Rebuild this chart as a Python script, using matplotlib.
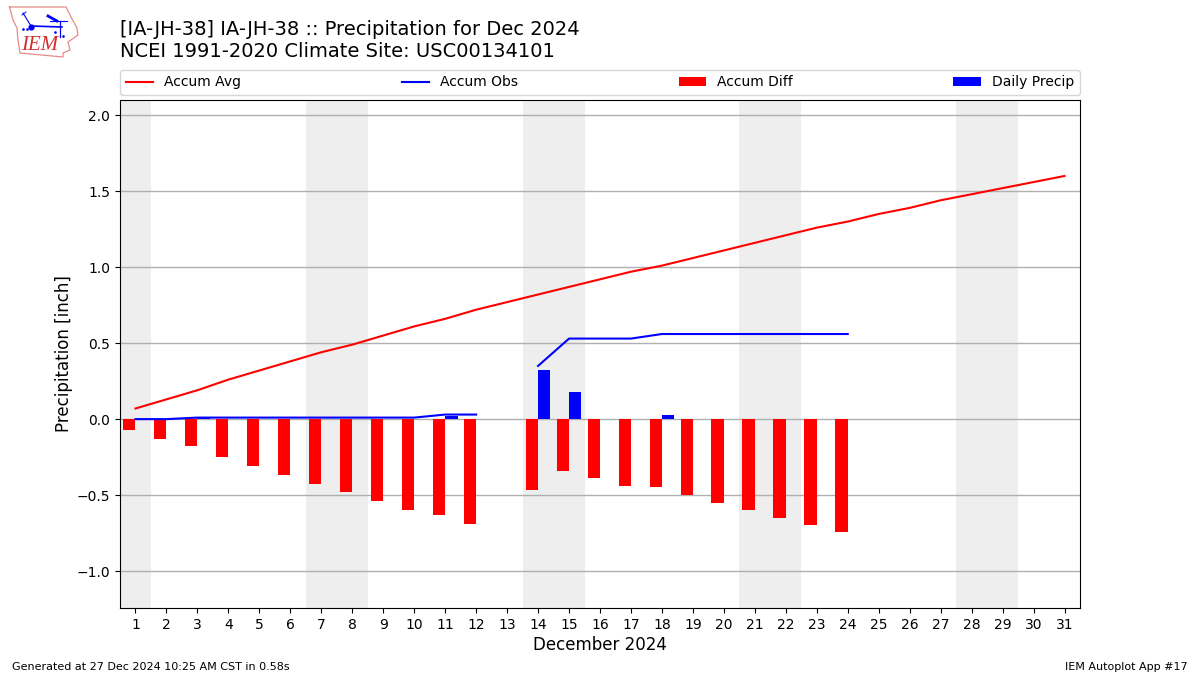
import numpy as np
import matplotlib
matplotlib.use("Agg")
import matplotlib.pyplot as plt

nan = float("nan")
days = list(range(1, 32))
accum_avg = [0.07, 0.13, 0.19, 0.26, 0.32, 0.38, 0.44, 0.49, 0.55, 0.61, 0.66, 0.72, 0.77, 0.82, 0.87, 0.92,
             0.97, 1.01, 1.06, 1.11, 1.16, 1.21, 1.26, 1.30, 1.35, 1.39, 1.44, 1.48, 1.52, 1.56, 1.60]
accum_obs = [0.0, 0.0, 0.01, 0.01, 0.01, 0.01, 0.01, 0.01, 0.01, 0.01, 0.03, 0.03, nan, 0.35, 0.53, 0.53,
             0.53, 0.56, 0.56, 0.56, 0.56, 0.56, 0.56, 0.56, nan, nan, nan, nan, nan, nan, nan]
accum_diff = [-0.07, -0.13, -0.18, -0.25, -0.31, -0.37, -0.43, -0.48, -0.54, -0.60, -0.63, -0.69, nan, -0.465,
              -0.34, -0.39, -0.44, -0.45, -0.50, -0.55, -0.60, -0.65, -0.70, -0.74, nan, nan, nan, nan, nan, nan, nan]
daily_precip = [0.0, 0.0, 0.01, 0.0, 0.0, 0.0, 0.0, 0.0, 0.0, 0.0, 0.02, 0.0, nan, 0.32, 0.18, 0.0,
                0.0, 0.03, 0.0, 0.0, 0.0, 0.0, 0.0, 0.0, nan, nan, nan, nan, nan, nan, nan]
weekend_spans = [(0.5, 1.5), (6.5, 8.5), (13.5, 15.5), (20.5, 22.5), (27.5, 29.5)]

W, H = 1200, 675
fig = plt.figure(figsize=(12, 6.75), dpi=100)
ax = fig.add_axes([120 / W, 1 - 608 / H, 960 / W, 508 / H])

for a, b in weekend_spans:
    ax.axvspan(a, b, color="#EEEEEE", lw=0, zorder=0)
ax.grid(True, axis="y", color="#b0b0b0", lw=1.0, zorder=1)
ax.set_axisbelow(True)

l1, = ax.plot(days, accum_avg, color="r", lw=1.5, label="Accum Avg", zorder=4)
l2, = ax.plot(days, accum_obs, color="b", lw=1.5, label="Accum Obs", zorder=4)
b1 = ax.bar(days, accum_diff, width=-0.4, align="edge", color="r", label="Accum Diff", zorder=3)
b2 = ax.bar(days, daily_precip, width=0.4, align="edge", color="b", label="Daily Precip", zorder=3)

ax.set_xlim(0.5, 31.5)
ax.set_ylim(-1.243, 2.1)
ax.set_xticks(days)
ax.set_yticks([-1.0, -0.5, 0.0, 0.5, 1.0, 1.5, 2.0])
ax.set_xlabel("December 2024", fontsize=12, labelpad=3)
ax.set_ylabel("Precipitation [inch]", fontsize=12, labelpad=2.5)
ax.tick_params(axis="both", labelsize=10)

ax.legend(handles=[l1, l2, b1, b2], ncol=4, mode="expand", loc="lower left",
          bbox_to_anchor=(0, 1.0098, 1, 0.0), borderaxespad=0, fontsize=10)

fig.text(120 / W, 1 - 61 / H, "[IA-JH-38] IA-JH-38 :: Precipitation for Dec 2024\n"
         "NCEI 1991-2020 Climate Site: USC00134101", fontsize=14, ha="left", va="bottom",
         linespacing=1.2)
fig.text(12 / W, 1 - 672 / H, "Generated at 27 Dec 2024 10:25 AM CST in 0.58s", fontsize=8, ha="left", va="bottom")
fig.text(1188 / W, 1 - 672 / H, "IEM Autoplot App #17", fontsize=8, ha="right", va="bottom")

# IEM logo, pixel coordinates
lg = fig.add_axes([0, 1 - 60 / H, 90 / W, 60 / H])
lg.set_xlim(0, 90)
lg.set_ylim(60, 0)
lg.axis("off")
outline_x = [9.5, 66, 71, 77, 78, 68, 70, 63, 63, 20, 18, 17, 13, 9.5]
outline_y = [7, 7, 17, 28, 35, 42, 50, 53, 57, 53, 40, 28, 20, 7]
lg.plot(outline_x, outline_y, color="#e58a8a", lw=0.9)
lg.plot([31, 62], [26, 27], color="b", lw=1.2)
lg.plot([31, 23], [26, 13], color="b", lw=0.8)
lg.plot([22, 26], [15, 12], color="b", lw=0.7)
lg.plot([60, 60], [21, 37], color="b", lw=0.9)
lg.plot([50, 67], [21, 21], color="b", lw=0.8)
lg.plot([48, 57], [16, 21], color="b", lw=2.0)
lg.plot([31], [27], marker="o", ms=3.5, color="b")
lg.plot([23, 27, 55, 63], [29, 29, 32, 36], ls="", marker=".", ms=1.8, color="b")
lg.text(21, 45, "IEM", color="#d03030", fontsize=15, family="Liberation Serif", style="italic",
        ha="left", va="center")

fig.savefig("out.png", dpi=100)
